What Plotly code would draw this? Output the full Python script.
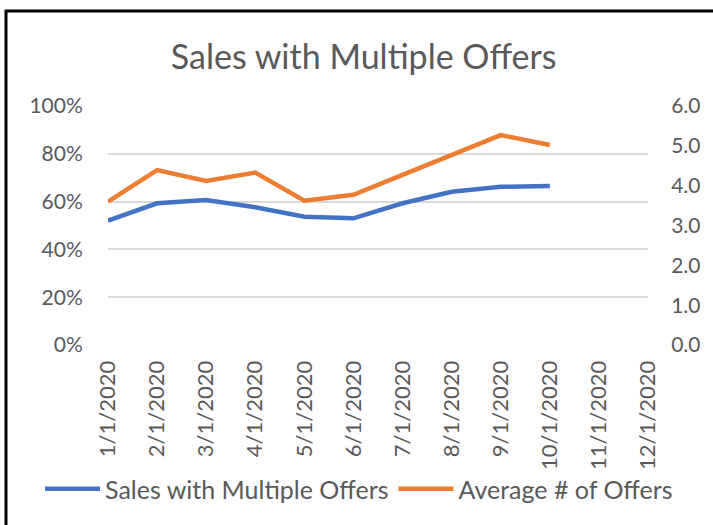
import plotly.graph_objects as go

months = ["1/1/2020", "2/1/2020", "3/1/2020", "4/1/2020", "5/1/2020", "6/1/2020",
          "7/1/2020", "8/1/2020", "9/1/2020", "10/1/2020", "11/1/2020", "12/1/2020"]
sales_multi = [0.52, 0.593, 0.607, 0.576, 0.537, 0.530, 0.593, 0.641, 0.662, 0.665, None, None]
avg_offers = [3.60, 4.39, 4.12, 4.33, 3.62, 3.77, 4.27, 4.77, 5.27, 5.02, None, None]

left_ticks = [0, 0.2, 0.4, 0.6, 0.8, 1.0]
right_ticks = [0, 1, 2, 3, 4, 5, 6]

FONT = "Lato"
GREY = "#595959"

fig = go.Figure()
fig.add_trace(go.Scatter(x=months, y=sales_multi, name="Sales with Multiple Offers",
                         mode="lines", line=dict(color="#4472C4", width=4.5),
                         connectgaps=False, yaxis="y"))
fig.add_trace(go.Scatter(x=months, y=avg_offers, name="Average # of Offers",
                         mode="lines", line=dict(color="#ED7D31", width=4.5),
                         connectgaps=False, yaxis="y2"))

fig.update_layout(
    width=713, height=525,
    margin=dict(l=108, r=65, t=106, b=180, autoexpand=False),
    paper_bgcolor="white", plot_bgcolor="white",
    font=dict(family=FONT, color=GREY),
    title=dict(text="Sales with Multiple Offers", x=0.51, xanchor="center",
               y=1 - 57 / 525, yanchor="middle",
               font=dict(family=FONT, size=34, color=GREY)),
    xaxis=dict(type="category", categoryorder="array", categoryarray=months,
               tickangle=-90, tickfont=dict(size=22, color=GREY),
               showgrid=False, showline=False, zeroline=False,
               ticks="outside", ticklen=6, tickcolor="rgba(0,0,0,0)",
               automargin=False),
    yaxis=dict(range=[0, 1], tickvals=left_ticks, tickformat=".0%",
               tickfont=dict(size=21, color=GREY),
               showgrid=True, gridcolor="#D9D9D9", gridwidth=1.5,
               zeroline=False, showline=False, automargin=False,
               ticks="outside", ticklen=20, tickcolor="rgba(0,0,0,0)"),
    yaxis2=dict(range=[0, 6], tickvals=right_ticks, tickformat=".1f",
                overlaying="y", side="right", automargin=False,
                tickfont=dict(size=21, color=GREY),
                showgrid=False, zeroline=False, showline=False,
                ticks="outside", ticklen=18, tickcolor="rgba(0,0,0,0)"),
    legend=dict(orientation="h", xref="paper", x=(40 - 108) / 540, xanchor="left",
                yref="paper", y=-(489 - 345) / 239, yanchor="middle",
                font=dict(family=FONT, size=25, color=GREY),
                itemwidth=55, bgcolor="rgba(0,0,0,0)"),
    showlegend=True,
    shapes=[dict(type="rect", xref="paper", yref="paper",
                 x0=(6 - 108) / 540, x1=1.3, y0=-1.0, y1=(345 - 11) / 239,
                 line=dict(color="black", width=3), fillcolor="rgba(0,0,0,0)",
                 layer="above")],
)

fig.write_html("out.html", config={"displayModeBar": False})
with open("out.html", "r", encoding="utf-8") as f:
    html = f.read()
html = html.replace("<head>", "<head><style>html,body{margin:0;padding:0;overflow:hidden;}</style>", 1)
with open("out.html", "w", encoding="utf-8") as f:
    f.write(html)
